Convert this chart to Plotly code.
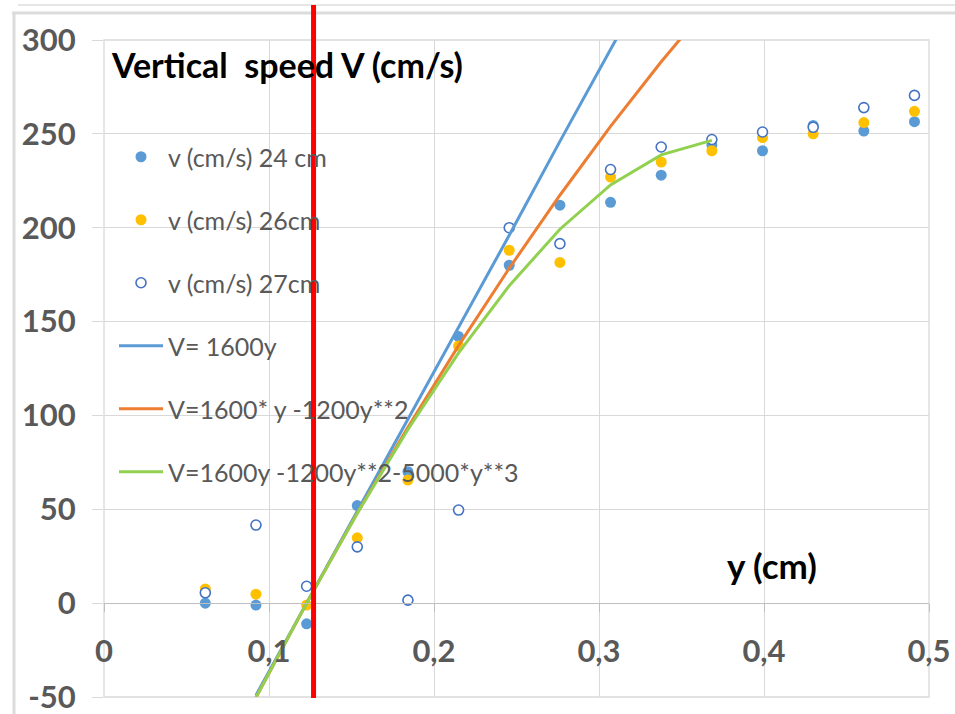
import plotly.graph_objects as go

# ---- data ----
y_meas = [0.0614, 0.0921, 0.1228, 0.1535, 0.1842, 0.2149, 0.2456, 0.2763,
          0.3070, 0.3377, 0.3684, 0.3991, 0.4298, 0.4605, 0.4912]
v_24cm = [0, -1, -11, 52, 70, 142, 180, 212, 213.5, 228, 244, 241, 254.5, 251.5, 256.5]
v_26cm = [7.6, 4.8, -1, 34.8, 65.6, 137, 188, 181.5, 227, 235, 241, 248, 250, 256, 262]
v_27cm = [5.5, 41.6, 9, 30, 1.6, 49.6, 200, 191.5, 231, 243, 247, 251, 253.5, 264, 270.5]

y_model = [0.0921, 0.1228, 0.1535, 0.1842, 0.2149, 0.2456, 0.2763, 0.3070, 0.3377, 0.3684]
v_lin = [-49, 0, 49, 98, 147, 196, 246, 295, 344, 393]
v_quad = [-50.3, 0, 48, 93.7, 137.2, 178.4, 217.3, 254, 288.4, 320.6]
v_cub = [-50.2, 0, 47.9, 92.5, 133.3, 169.1, 199.2, 222.8, 238.8, 246.5]

x_tickvals = [0, 0.1, 0.2, 0.3, 0.4, 0.5]
x_ticktext = ["0", "0,1", "0,2", "0,3", "0,4", "0,5"]
y_tickvals = [-50, 0, 50, 100, 150, 200, 250, 300]
y_ticktext = ["-50", "0", "50", "100", "150", "200", "250", "300"]

red_marker_y = 0.127

names = ["v (cm/s) 24 cm", "v (cm/s) 26cm", "v (cm/s) 27cm",
         "V= 1600y", "V=1600* y -1200y**2", "V=1600y -1200y**2-5000*y**3"]

FONT = "Lato"
GRID = "#d9d9d9"
GRAY_TXT = "#595959"

fig = go.Figure()
fig.add_trace(go.Scatter(x=y_meas, y=v_24cm, mode="markers", name=names[0], legendgroup="a",
                         marker=dict(size=11, color="#5B9BD5", line=dict(width=0))))
fig.add_trace(go.Scatter(x=y_meas, y=v_26cm, mode="markers", name=names[1], legendgroup="b",
                         marker=dict(size=11, color="#FFC000", line=dict(width=0))))
fig.add_trace(go.Scatter(x=y_meas, y=v_27cm, mode="markers", name=names[2], legendgroup="c",
                         marker=dict(size=10, color="white", symbol="circle",
                                     line=dict(width=1.6, color="#4472C4"))))
fig.add_trace(go.Scatter(x=y_model, y=v_lin, mode="lines", name=names[3], legendgroup="d",
                         line=dict(color="#5B9BD5", width=3)))
fig.add_trace(go.Scatter(x=y_model, y=v_quad, mode="lines", name=names[4], legendgroup="e",
                         line=dict(color="#ED7D31", width=3)))
fig.add_trace(go.Scatter(x=y_model, y=v_cub, mode="lines", name=names[5], legendgroup="f",
                         line=dict(color="#92D050", width=3)))

W, H = 955, 714
L, R, T, B = 104, 26, 40, 17
pw, ph = W - L - R, H - T - B


def px(xp):
    return (xp - L) / pw


def py(yp):
    return (H - B - yp) / ph


shapes = [
    # plot-area border (gridline colour)
    dict(type="rect", xref="paper", yref="paper", x0=0, x1=1, y0=0, y1=1,
         line=dict(color=GRID, width=1.3), layer="below"),
    # outer chart frame pieces
    dict(type="line", xref="paper", yref="paper", x0=px(14), x1=px(14), y0=py(12), y1=py(716),
         line=dict(color="#dcdcdc", width=3)),
    dict(type="line", xref="paper", yref="paper", x0=px(12), x1=px(957), y0=py(13), y1=py(13),
         line=dict(color="#dcdcdc", width=3)),
    dict(type="line", xref="paper", yref="paper", x0=px(18), x1=px(957), y0=py(5), y1=py(5),
         line=dict(color="#e6e6e6", width=2)),
    # red vertical marker
    dict(type="line", xref="x", yref="paper", x0=red_marker_y, x1=red_marker_y,
         y0=py(698), y1=py(5), line=dict(color="#FF0000", width=5), layer="above"),
]

annotations = [
    dict(text="<b>Vertical  speed V (cm/s)</b>", xref="paper", yref="paper",
         x=px(109), y=py(64), xanchor="left", yanchor="middle", showarrow=False,
         font=dict(family=FONT, size=34, color="black")),
    dict(text="<b>y (cm)</b>", xref="paper", yref="paper",
         x=px(772), y=py(565), xanchor="center", yanchor="middle", showarrow=False,
         font=dict(family=FONT, size=35, color="black")),
]

fig.update_layout(
    width=W, height=H,
    margin=dict(l=L, r=R, t=T, b=B, pad=0, autoexpand=False),
    paper_bgcolor="white", plot_bgcolor="white",
    font=dict(family=FONT, color=GRAY_TXT),
    shapes=shapes, annotations=annotations,
    legend=dict(x=px(114), y=py(134), xanchor="left", yanchor="top",
                bgcolor="rgba(0,0,0,0)", borderwidth=0,
                font=dict(family=FONT, size=25, color=GRAY_TXT),
                itemwidth=44, tracegroupgap=27.5),
    xaxis=dict(range=[0, 0.5], tickvals=x_tickvals, ticktext=x_ticktext,
               showgrid=True, gridcolor=GRID, gridwidth=1.3, zeroline=False,
               showline=True, linecolor="#bfbfbf", linewidth=1.3,
               anchor="free", position=50 / 350, automargin=False,
               ticklabeloverflow="allow",
               ticks="outside", ticklen=8, tickcolor="#bfbfbf", ticklabelstandoff=13,
               tickfont=dict(family=FONT, size=31, color=GRAY_TXT, weight="bold")),
    yaxis=dict(range=[-50, 300], tickvals=y_tickvals, ticktext=y_ticktext,
               showgrid=True, gridcolor=GRID, gridwidth=1.3, zeroline=False,
               showline=False, ticks="outside", ticklen=11, tickcolor=GRID,
               ticklabelstandoff=10, automargin=False, ticklabeloverflow="allow",
               tickfont=dict(family=FONT, size=31, color=GRAY_TXT, weight="bold")),
)

fig.write_html("out.html", config={"displayModeBar": False},
               post_script="document.body.style.margin='0';document.body.style.overflow='hidden';")
